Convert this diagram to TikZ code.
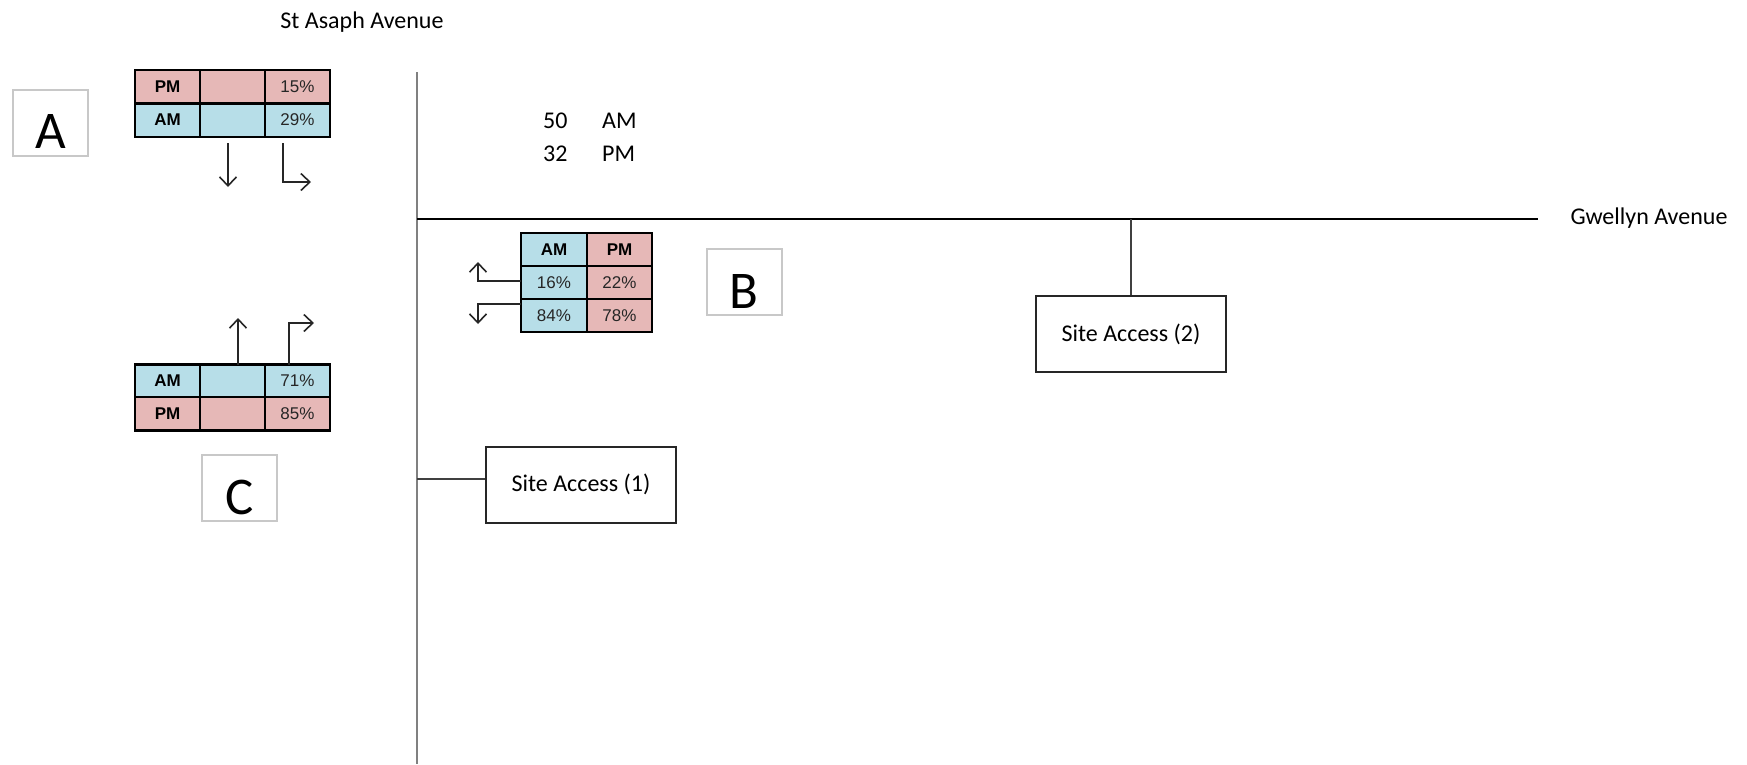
\documentclass[tikz,border=0pt]{standalone}
\usepackage{fontspec}
\setmainfont{Carlito}
\newfontfamily\arialfont{Liberation Sans}
\usetikzlibrary{arrows.meta}

\definecolor{amblue}{HTML}{B7DEE8}
\definecolor{pmpink}{HTML}{E6B8B7}
\definecolor{roadgrey}{HTML}{808080}
\definecolor{tagborder}{HTML}{C8C8C8}
\definecolor{celltext}{HTML}{262626}

\tikzset{
  cell/.style={draw=black, line width=2.5pt, inner sep=0pt,
    minimum width=65pt, minimum height=33.5pt,
    font=\arialfont\fontsize{17}{20}\selectfont, text=celltext},
  hdr/.style={cell, font=\arialfont\bfseries\fontsize{17}{20}\selectfont, text=black},
  am/.style={fill=amblue},
  pm/.style={fill=pmpink},
  tag/.style={draw=tagborder, line width=2pt, inner sep=0pt,
    minimum width=75pt, minimum height=66pt,
    text height=52pt, text depth=0pt,
    font=\fontsize{53}{56}\selectfont},
  site/.style={draw=black!85, line width=2pt, inner sep=0pt,
    minimum width=190pt, minimum height=76pt,
    font=\fontsize{24}{28}\selectfont},
  label/.style={font=\fontsize{24}{28}\selectfont, inner sep=0pt},
  road/.style={line width=2pt},
  spur/.style={draw=black!75, line width=1.5pt},
  move/.style={draw=black!85, line width=1.6pt,
    -{Straight Barb[length=9pt,width=17pt,line width=1.6pt]}},
}

\begin{document}
\begin{tikzpicture}[x=1pt,y=-1pt]
\useasboundingbox (0,0) rectangle (1747,764);

% street names and flow totals
\node[label] (stasaph) at (362,22) {St Asaph Avenue};
\node[label] (gwellyn) at (1649,218) {Gwellyn Avenue};
\node[label, anchor=base west] (n50) at (543,128) {50};
\node[label, anchor=base west] (nam) at (602,128) {AM};
\node[label, anchor=base west] (n32) at (543,161) {32};
\node[label, anchor=base west] (npm) at (602,161) {PM};

% roads
\coordinate (vtop) at (417,72);
\coordinate (vbot) at (417,764);
\coordinate (hleft) at (417,219);
\coordinate (hright) at (1538,219);
\draw[road, draw=roadgrey] (vtop) -- (vbot);
\draw[road, draw=black, line width=1.5pt] (hleft) -- (hright);

% site accesses
\node[site] (sa1) at (581,484.5) {Site Access (1)};
\node[site] (sa2) at (1131,334) {Site Access (2)};
\coordinate (j1) at (417,479);
\coordinate (j2) at (1131,219);
\draw[spur] (j1) -- (j1 -| sa1.west);
\draw[spur] (j2) -- (sa2.north);

% arm labels
\node[tag] (tagA) at (50.5,122.5) {A};
\node[tag] (tagB) at (744,282) {B};
\node[tag] (tagC) at (239.5,488) {C};

% arm A table
\node[hdr, pm] (a11) at (167.5,86.5) {PM};
\node[cell, pm] (a12) at (232.5,86.5) {};
\node[cell, pm] (a13) at (297.5,86.5) {15\%};
\node[hdr, am] (a21) at (167.5,120) {AM};
\node[cell, am] (a22) at (232.5,120) {};
\node[cell, am] (a23) at (297.5,120) {29\%};

% arm C table
\node[hdr, am] (c11) at (167.5,381) {AM};
\node[cell, am] (c12) at (232.5,381) {};
\node[cell, am] (c13) at (297.5,381) {71\%};
\node[hdr, pm] (c21) at (167.5,413.5) {PM};
\node[cell, pm] (c22) at (232.5,413.5) {};
\node[cell, pm] (c23) at (297.5,413.5) {85\%};

% arm B table
\node[hdr, am, minimum width=66pt, minimum height=33pt] (b11) at (554,249.5) {AM};
\node[hdr, pm, minimum height=33pt] (b12) at (619.5,249.5) {PM};
\node[cell, am, minimum width=66pt, minimum height=33pt] (b21) at (554,282.5) {16\%};
\node[cell, pm, minimum height=33pt] (b22) at (619.5,282.5) {22\%};
\node[cell, am, minimum width=66pt, minimum height=33pt] (b31) at (554,315.5) {84\%};
\node[cell, pm, minimum height=33pt] (b32) at (619.5,315.5) {78\%};

% turning movements, arm A
\coordinate (aDownS) at (228,143);
\coordinate (aDownE) at (228,187);
\coordinate (aTurnS) at (283,143);
\coordinate (aTurnK) at (283,182);
\coordinate (aTurnE) at (311,182);
\draw[move] (aDownS) -- (aDownE);
\draw[move] (aTurnS) -- (aTurnK) -- (aTurnE);

% turning movements, arm C
\coordinate (cUpS) at (238,365);
\coordinate (cUpE) at (238,318);
\coordinate (cTurnS) at (289,365);
\coordinate (cTurnK) at (289,323);
\coordinate (cTurnE) at (314,323);
\draw[move] (cUpS) -- (cUpE);
\draw[move] (cTurnS) -- (cTurnK) -- (cTurnE);

% turning movements, arm B
\coordinate (bUpS) at (521,281);
\coordinate (bUpK) at (478,281);
\coordinate (bUpE) at (478,262);
\coordinate (bDnS) at (521,304);
\coordinate (bDnK) at (478,304);
\coordinate (bDnE) at (478,324);
\draw[move] (bUpS) -- (bUpK) -- (bUpE);
\draw[move] (bDnS) -- (bDnK) -- (bDnE);
\end{tikzpicture}
\end{document}
